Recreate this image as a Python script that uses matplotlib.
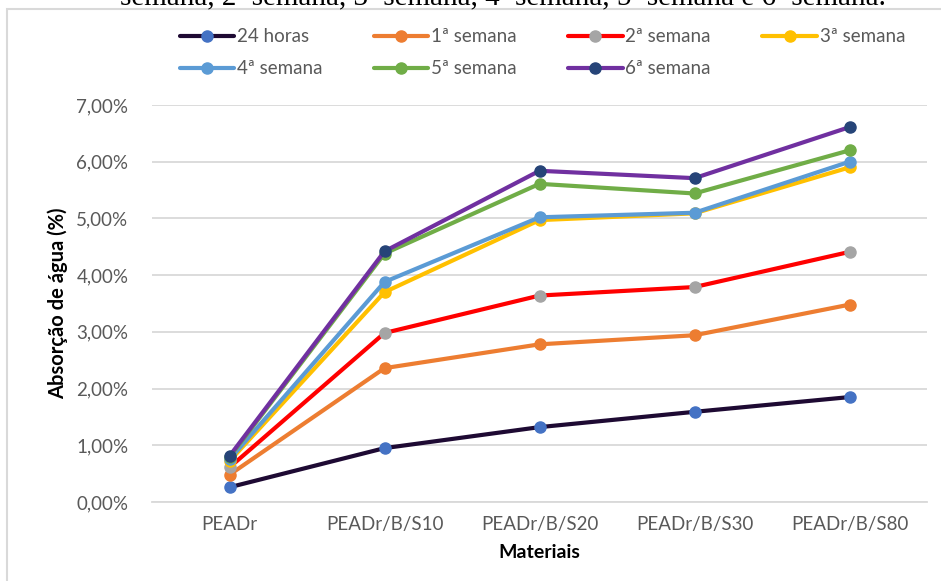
import matplotlib.pyplot as plt
import matplotlib.patches as mpatches
from matplotlib.ticker import FuncFormatter

# data (absorção de água, %)
materiais = ['PEADr', 'PEADr/B/S10', 'PEADr/B/S20', 'PEADr/B/S30', 'PEADr/B/S80']
series_names = ['24 horas', '1ª semana', '2ª semana', '3ª semana',
                '4ª semana', '5ª semana', '6ª semana']
h24 = [0.26, 0.95, 1.32, 1.59, 1.85]
sem1 = [0.48, 2.36, 2.78, 2.94, 3.48]
sem2 = [0.61, 2.98, 3.64, 3.79, 4.41]
sem3 = [0.72, 3.70, 4.97, 5.09, 5.90]
sem4 = [0.75, 3.88, 5.02, 5.10, 6.00]
sem5 = [0.79, 4.38, 5.61, 5.44, 6.20]
sem6 = [0.81, 4.42, 5.84, 5.71, 6.61]
y_ticks = [0, 1, 2, 3, 4, 5, 6, 7]

values = [h24, sem1, sem2, sem3, sem4, sem5, sem6]
line_colors = ['#1E0A33', '#ED7D31', '#FF0000', '#FFC000', '#5B9BD5', '#70AD47', '#7030A0']
marker_colors = ['#4472C4', '#ED7D31', '#A5A5A5', '#FFC000', '#5B9BD5', '#70AD47', '#264478']

plt.rcParams['font.family'] = ['Lato', 'DejaVu Sans']

fig = plt.figure(figsize=(9.41, 5.81), dpi=100)
ax = fig.add_axes([152 / 941, 1 - 502 / 581, 775 / 941, 397 / 581])

# chart border (cut at the right and bottom edges)
fig.patches.append(mpatches.Rectangle((7 / 941, -0.05), 1.0, 1 - 9 / 581 + 0.05,
                                      transform=fig.transFigure, fill=False,
                                      edgecolor='#D9D9D9', linewidth=1.5))

# caption from the page, mostly cut off at the top (as in the source)
fig.text(0.535, 1 - 4 / 581, 'semana, 2ª semana, 3ª semana, 4ª semana, 5ª semana e 6ª semana.',
         ha='center', va='baseline', fontsize=21, family='Liberation Serif')

x = list(range(len(materiais)))
lines = []
for name, vals, lc, mc in zip(series_names, values, line_colors, marker_colors):
    ln, = ax.plot(x, vals, color=lc, linewidth=3, marker='o', markersize=8,
                  markerfacecolor=mc, markeredgecolor=mc, label=name,
                  solid_capstyle='round')
    lines.append(ln)

ax.set_xlim(-0.5, 4.5)
ax.set_ylim(0, 7)
ax.set_yticks(y_ticks)
ax.yaxis.set_major_formatter(FuncFormatter(lambda v, p: f'{v:.2f}%'.replace('.', ',')))
ax.set_xticks(x)
ax.set_xticklabels(materiais)
ax.grid(axis='y', color='#D9D9D9', linewidth=1.3)
ax.set_axisbelow(True)
for s in ['top', 'right', 'left']:
    ax.spines[s].set_visible(False)
ax.spines['bottom'].set_color('#D9D9D9')
ax.spines['bottom'].set_linewidth(1.3)
ax.tick_params(axis='both', length=0, colors='#595959', labelsize=13.5)
ax.tick_params(axis='y', pad=17)
ax.tick_params(axis='x', pad=10)

ax.set_ylabel('Absorção de água (%)', fontsize=14.5, fontweight='bold', labelpad=6)
ax.set_xlabel('Materiais', fontsize=14, fontweight='bold', labelpad=8)

# row-wise legend order (matplotlib fills columns first)
order = [0, 4, 1, 5, 2, 6, 3]
leg = fig.legend([lines[i] for i in order], [series_names[i] for i in order],
                 loc='upper left', bbox_to_anchor=(172 / 941, 1 - 21 / 581), ncol=4,
                 frameon=False, fontsize=13.5, handlelength=2.9, handletextpad=0.15,
                 columnspacing=2.75, labelspacing=0.8, borderaxespad=0)
for t in leg.get_texts():
    t.set_color('#595959')

fig.savefig('out.png', dpi=100)
